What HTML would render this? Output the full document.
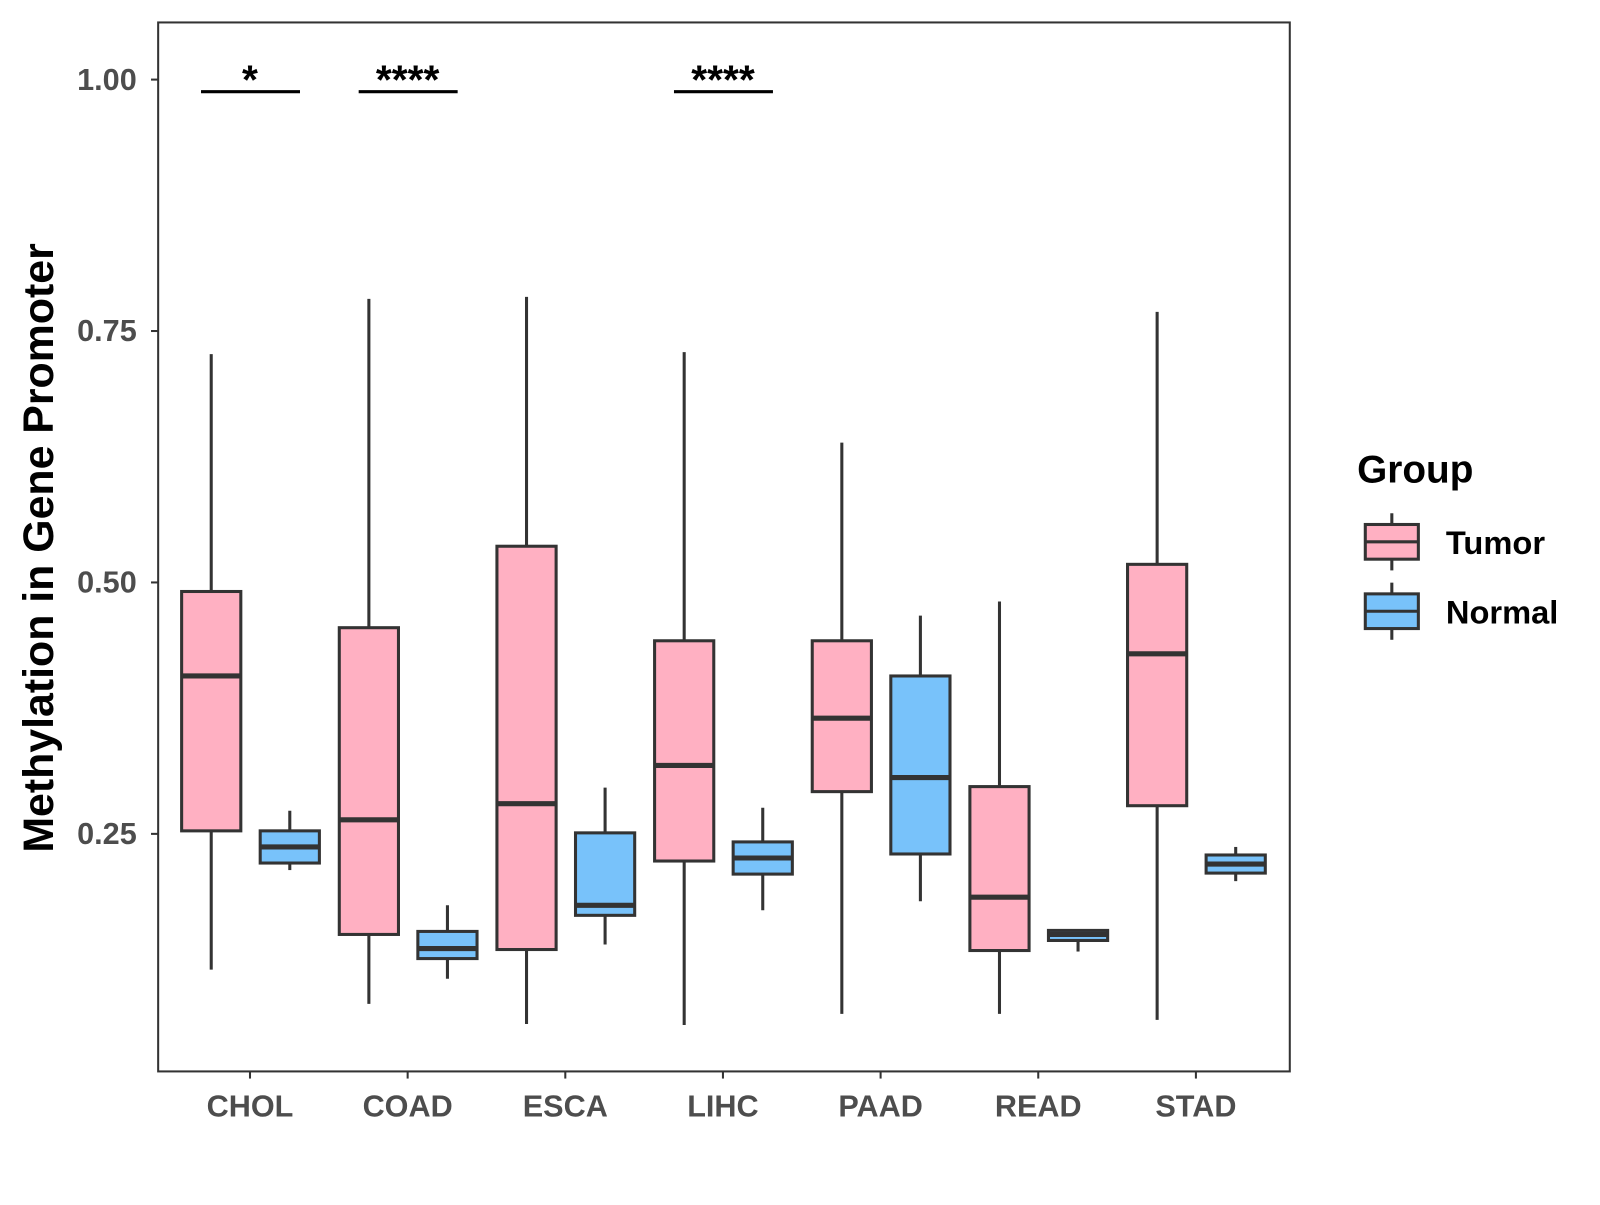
<!DOCTYPE html>
<html><head><meta charset="utf-8"><style>
body{margin:0;background:#fff}
svg text{font-family:"Liberation Sans",Arial,sans-serif;font-weight:bold}
</style></head><body>
<svg id="chart" width="1600" height="1200" viewBox="0 0 1600 1200" xmlns="http://www.w3.org/2000/svg">
<rect x="0" y="0" width="1600" height="1200" fill="#fff"/>
<g transform="scale(1.0204)">
<rect x="155" y="22" width="1109" height="1028" fill="none" stroke="#333" stroke-width="2"/>
<g id="marks"></g>
<text transform="translate(52,537) rotate(-90)" text-anchor="middle" font-size="42" fill="#000">Methylation in Gene Promoter</text>
<g>
<text x="1330" y="473" font-size="38" fill="#000">Group</text>
<line x1="1364" y1="503" x2="1364" y2="559" stroke="#333" stroke-width="3"/>
<rect x="1338" y="514" width="52" height="34" fill="#FFB0C2" stroke="#333" stroke-width="3"/>
<line x1="1338" y1="531" x2="1390" y2="531" stroke="#333" stroke-width="3"/>
<text x="1417" y="543" font-size="32" fill="#000">Tumor</text>
<line x1="1364" y1="571" x2="1364" y2="627" stroke="#333" stroke-width="3"/>
<rect x="1338" y="582" width="52" height="34" fill="#78C2FA" stroke="#333" stroke-width="3"/>
<line x1="1338" y1="599" x2="1390" y2="599" stroke="#333" stroke-width="3"/>
<text x="1417" y="611" font-size="32" fill="#000">Normal</text>
</g>
</g>
</svg>
<script>
const categories=["CHOL","COAD","ESCA","LIHC","PAAD","READ","STAD"];
const tumorStats=[[0.115,0.253,0.407,0.491,0.727],[0.081,0.150,0.264,0.455,0.782],[0.061,0.135,0.280,0.536,0.784],[0.060,0.223,0.318,0.442,0.729],[0.071,0.292,0.365,0.442,0.639],[0.071,0.134,0.187,0.297,0.481],[0.065,0.278,0.429,0.518,0.769]];
const normalStats=[[0.214,0.221,0.237,0.253,0.273],[0.106,0.126,0.136,0.153,0.179],[0.140,0.169,0.179,0.251,0.296],[0.174,0.210,0.226,0.242,0.276],[0.183,0.230,0.306,0.407,0.467],[0.133,0.144,0.150,0.154,0.155],[0.203,0.211,0.220,0.229,0.237]];
const yTicks=[0.25,0.5,0.75,1.0];
const yTickLabels=["0.25","0.50","0.75","1.00"];
const sigLabels=["*","****","","****","","",""];
const sigLevel=0.988;

const NS="http://www.w3.org/2000/svg";
const g=document.getElementById('marks');
function y(v){return 78+(1-v)*985.6;}
function x(i){return 245+i*154.5;}
function el(t,a,p){const e=document.createElementNS(NS,t);for(const k in a)e.setAttribute(k,a[k]);(p||g).appendChild(e);return e;}
yTicks.forEach((t,i)=>{
 const l=el('line',{x1:148,x2:155,y1:y(t),y2:y(t),stroke:'#333','stroke-width':2});
 
 
 const tx=el('text',{x:134,y:y(t)+10,'text-anchor':'end','font-size':30,fill:'#4d4d4d'});
 tx.textContent=yTickLabels[i];
 
 
});
function box(cx,s,fill,name){
 const grp=el('g',{});
 
 
 el('line',{x1:cx,x2:cx,y1:y(s[0]),y2:y(s[4]),stroke:'#333','stroke-width':3},grp);
 el('rect',{x:cx-29,y:y(s[3]),width:58,height:y(s[1])-y(s[3]),fill:fill,stroke:'#333','stroke-width':3},grp);
 el('line',{x1:cx-29,x2:cx+29,y1:y(s[2]),y2:y(s[2]),stroke:'#333','stroke-width':5},grp);
}
categories.forEach((c,i)=>{
 const cx=x(i);
 box(cx-38,tumorStats[i],'#FFB0C2','box-tumor-'+c.toLowerCase());
 box(cx+39,normalStats[i],'#78C2FA','box-normal-'+c.toLowerCase());
 const tk=el('line',{x1:cx,x2:cx,y1:1050,y2:1057,stroke:'#333','stroke-width':2});
 
 
 const tl=el('text',{x:cx,y:1094,'text-anchor':'middle','font-size':30,fill:'#4d4d4d'});
 tl.textContent=c;
 
 
 if(sigLabels[i]){
  const sl=el('line',{x1:cx-48,x2:cx+49,y1:y(sigLevel),y2:y(sigLevel),stroke:'#000','stroke-width':3});
  
  
  const st=el('text',{x:cx,y:y(sigLevel)+2,'text-anchor':'middle','font-size':40,fill:'#000'});
  st.textContent=sigLabels[i];
  
  
 }
});
</script>
</body></html>
